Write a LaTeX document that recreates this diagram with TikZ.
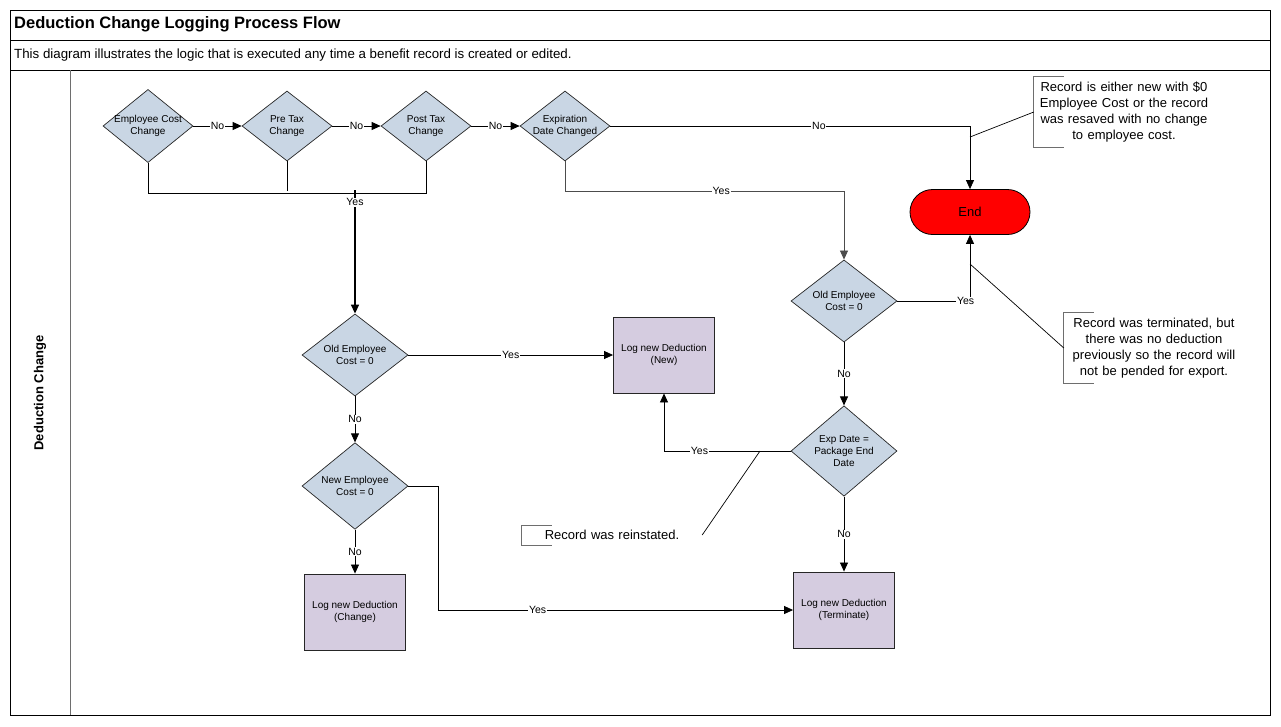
\documentclass[tikz,border=0pt]{standalone}
\usepackage{fontspec}
\setmainfont{Liberation Sans}
\usepackage{tikz}
\usetikzlibrary{shapes.geometric, arrows.meta}
\definecolor{decisionColor}{HTML}{C9D6E4}
\definecolor{logColor}{HTML}{D5CCE0}
\definecolor{endColor}{HTML}{FF0000}
\definecolor{frameGray}{HTML}{6E6E6E}
\newcommand{\fsz}[2]{\fontsize{#1}{#2}\selectfont}

\begin{document}
\begin{tikzpicture}[x=1pt, y=-1pt,
    decision/.style={diamond, draw=black!85, fill=decisionColor, line width=0.7pt,
        minimum width=106pt, minimum height=78pt, inner sep=0pt, align=center, font=\fsz{10}{12}},
    toprow/.style={decision, minimum width=90pt, minimum height=70pt, inner sep=-4pt},
    logbox/.style={rectangle, draw=black!85, fill=logColor, line width=0.9pt,
        minimum width=101pt, minimum height=76pt, align=center, font=\fsz{10}{12}},
    flow/.style={line width=0.8pt, -{Triangle[length=9pt, width=8pt]}},
    lbl/.style={fill=white, inner sep=0.8pt, font=\fsz{10.5}{12}},
    note/.style={text width=170pt, inner xsep=5pt, inner ysep=5pt, align=center, font=\fsz{13}{16}},
    bracket/.style={draw=frameGray, line width=0.9pt},
  ]
    \useasboundingbox (0,0) rectangle (1281,726);
    \draw[line width=1pt] (10,10) rectangle (1270,715);
    \draw[line width=1pt] (10,40) -- (1270,40);
    \draw[line width=1pt] (10,70) -- (1270,70);
    \draw[frameGray, line width=1pt] (70,70) -- (70,715);
    \node[anchor=west, inner sep=0pt, font=\bfseries\fsz{16.5}{18}] (title) at (14,24)
        {Deduction Change Logging Process Flow};
    \node[anchor=west, inner sep=0pt, font=\fsz{13.3}{15}] (subtitle) at (14,55)
        {This diagram illustrates the logic that is executed any time a benefit record is created or edited.};
    \node[rotate=90, inner sep=0pt, font=\bfseries\fsz{13}{15}] (lane) at (40,393) {Deduction Change};

    \node[toprow] (empcost) at (148,126) {Employee Cost\\Change};
    \node[toprow] (pretax) at (287,126) {Pre Tax\\Change};
    \node[toprow] (posttax) at (426,126) {Post Tax\\Change};
    \node[toprow] (expdate) at (565,126) {Expiration\\Date Changed};
    \node[decision] (oldcost) at (355,355) {Old Employee\\Cost = 0};
    \node[decision] (newcost) at (355,486) {New Employee\\Cost = 0};
    \node[decision] (oldcostexp) at (844,301) {Old Employee\\Cost = 0};
    \node[decision] (pkgend) at (844,451) {Exp Date =\\Package End\\Date};
    \node[logbox] (lognew) at (664,355) {Log new Deduction\\(New)};
    \node[logbox] (logchange) at (355,612) {Log new Deduction\\(Change)};
    \node[logbox] (logterm) at (844,610) {Log new Deduction\\(Terminate)};
    \node[draw=black, fill=endColor, line width=0.8pt, rounded corners=22.5pt, minimum width=120pt,
        minimum height=45pt, font=\fsz{13}{15}] (end) at (970,212) {End};

    \foreach \a/\b in {empcost/pretax, pretax/posttax, posttax/expdate}
        \draw[flow] (\a.east) -- node[lbl] {No} (\b.west);
    \draw[flow] (expdate.east) -| node[lbl, pos=0.29] {No} (end.north);
    \draw[line width=0.8pt] (empcost.south) -- ++(0,30) -| (posttax.south);
    \draw[line width=0.8pt] (pretax.south) -- ++(0,30);
    \coordinate (yesjoin) at (355,190);
    \draw[flow, line width=1.6pt] (yesjoin) -- node[lbl, pos=0.1] {Yes} (oldcost.north);
    \draw[flow, draw=black!70] (expdate.south) -- ++(0,30) -| node[lbl, pos=0.28, text=black] {Yes} (oldcostexp.north);
    \draw[flow] (oldcostexp.east) -| node[lbl, pos=0.47] {Yes} (end.south);
    \draw[flow] (oldcostexp.south) -- node[lbl] {No} (pkgend.north);
    \draw[flow] (pkgend.west) -| node[lbl, pos=0.36] {Yes} (lognew.south);
    \draw[flow] (pkgend.south) -- node[lbl] {No} (logterm.north);
    \draw[flow] (oldcost.east) -- node[lbl] {Yes} (lognew.west);
    \draw[flow] (oldcost.south) -- node[lbl] {No} (newcost.north);
    \draw[flow] (newcost.south) -- node[lbl] {No} (logchange.north);
    \draw[flow] (newcost.east) -- ++(30,0) |- node[lbl, pos=0.64] {Yes} (logterm.west);

    \node[note] (noteresave) at (1124,112) {Record is either new with \$0\\Employee Cost or the record\\was resaved with no change\\to employee cost.};
    \node[note] (noteterm) at (1154,348) {Record was terminated, but\\there was no deduction\\previously so the record will\\not be pended for export.};
    \node[note] (notereinst) at (612,535) {Record was reinstated.};
    \foreach \n in {noteresave, noteterm, notereinst}
        \draw[bracket] ([xshift=30pt]\n.north west) -- (\n.north west) -- (\n.south west) -- ([xshift=30pt]\n.south west);
    \coordinate (resaveend) at (970,137);
    \coordinate (termend) at (970,264);
    \coordinate (reinstend) at (760,451);
    \draw[line width=0.7pt] (noteresave.west) -- (resaveend);
    \draw[line width=0.7pt] (noteterm.west) -- (termend);
    \draw[line width=0.7pt] (notereinst.east) -- (reinstend);
\end{tikzpicture}
\end{document}
